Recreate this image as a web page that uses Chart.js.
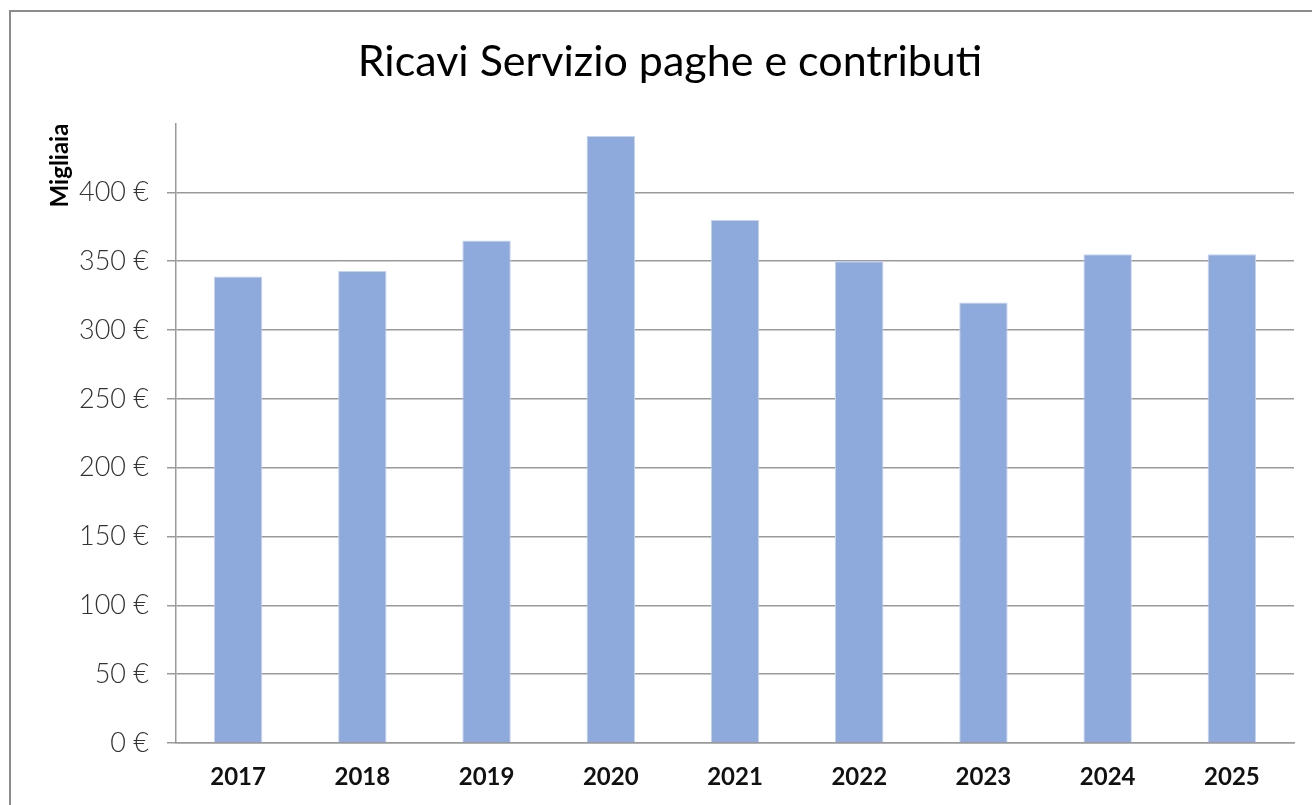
<!DOCTYPE html>
<html>
<head>
<meta charset="utf-8">
<script src="https://cdn.jsdelivr.net/npm/chart.js@4.4.0/dist/chart.umd.min.js"></script>
<style>
  html, body { margin: 0; padding: 0; background: #fff; overflow: hidden; }
  #frame {
    position: absolute; left: 9px; top: 10px;
    width: 1314px; height: 795px;
    border-top: 2px solid #8c8c8c; border-left: 2px solid #8c8c8c;
  }
</style>
</head>
<body>
<div id="frame"><canvas id="chart"></canvas></div>
<script>
// Data
const years = ["2017", "2018", "2019", "2020", "2021", "2022", "2023", "2024", "2025"];
const ricavi = [339, 343, 365, 441, 380, 350, 320, 355, 355];
const yMax = 450;
const yStep = 50;

const gridGray = "#9a9a9a";

new Chart(document.getElementById("chart"), {
  type: "bar",
  data: {
    labels: years,
    datasets: [{
      data: ricavi,
      backgroundColor: "#8eaadc",
      borderColor: "#c6d5ef",
      borderWidth: 1,
      barPercentage: 0.39,
      categoryPercentage: 1
    }]
  },
  options: {
    responsive: true,
    maintainAspectRatio: false,
    animation: false,
    layout: { padding: { left: 35, right: 31, top: 0, bottom: 0 } },
    plugins: {
      legend: { display: false },
      tooltip: { enabled: false },
      title: {
        display: true,
        text: "Ricavi Servizio paghe e contributi",
        color: "#000",
        font: { family: "Lato", size: 43, weight: "normal" },
        padding: { top: 24, bottom: 36 }
      }
    },
    scales: {
      x: {
        grid: { display: false, drawTicks: false },
        border: { color: gridGray, width: 1.5 },
        ticks: {
          color: "#111",
          padding: 20,
          font: { family: "Lato", size: 24, weight: "bold" }
        },
        afterFit: s => { s.height = 64; }
      },
      y: {
        min: 0,
        max: yMax,
        border: { color: gridGray, width: 1.5 },
        grid: {
          color: c => (c.tick && c.tick.value === yMax ? "rgba(0,0,0,0)" : gridGray),
          lineWidth: 1.5,
          tickLength: 9
        },
        ticks: {
          stepSize: yStep,
          color: "#333",
          padding: 18,
          font: { family: "Lato", size: 27, weight: 300 },
          callback: v => (v === yMax ? "" : v + " €")
        },
        title: {
          display: true,
          text: "Migliaia",
          align: "end",
          color: "#000",
          font: { family: "Lato", size: 24, weight: "bold" },
          padding: 0
        },
        afterFit: s => { s.width = 130; }
      }
    }
  }
});
</script>
</body>
</html>
